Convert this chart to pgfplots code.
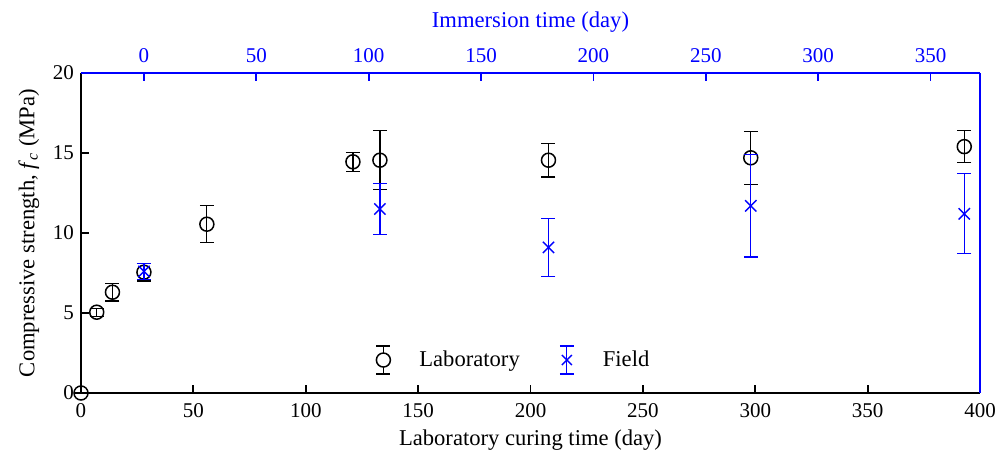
\documentclass[border=0pt]{standalone}
\usepackage{fontspec}
\setmainfont{Liberation Serif}
\usepackage{pgfplots}
\usepackage{pgfplotstable}
\pgfplotsset{compat=1.18}

\pgfplotstableread{
x y e
0 0 0
7 5.05 0.25
14 6.3 0.55
28 7.55 0.55
56 10.55 1.15
121 14.45 0.6
133 14.55 1.85
208 14.55 1.05
298 14.7 1.65
393 15.4 1.0
}\labdata

\pgfplotstableread{
x y e
0 7.6 0.5
105 11.5 1.6
180 9.1 1.8
270 11.7 3.2
365 11.2 2.5
}\fielddata

\pgfplotsset{
  lableg/.style={legend image code/.code={
    \path[draw=none] (0pt,0pt) rectangle (0.3cm+16pt,0.1pt);
    \draw[black,line width=0.6pt] (0.3cm,-7pt)--(0.3cm,7pt);
    \draw[black,line width=0.6pt] (0.3cm-3.5pt,-7pt)--(0.3cm+3.5pt,-7pt);
    \draw[black,line width=0.6pt] (0.3cm-3.5pt,7pt)--(0.3cm+3.5pt,7pt);
    \draw[black,line width=0.75pt,fill=white] (0.3cm,0pt) circle (3.5pt);
  }},
  fieldleg/.style={legend image code/.code={
    \path[draw=none] (0pt,0pt) rectangle (0.3cm+16pt,0.1pt);
    \draw[blue,line width=0.6pt] (0.3cm,-7pt)--(0.3cm,7pt);
    \draw[blue,line width=0.6pt] (0.3cm-3.5pt,-7pt)--(0.3cm+3.5pt,-7pt);
    \draw[blue,line width=0.6pt] (0.3cm-3.5pt,7pt)--(0.3cm+3.5pt,7pt);
    \draw[blue,line width=0.7pt] (0.3cm-2.5pt,-2.5pt)--(0.3cm+2.5pt,2.5pt);
    \draw[blue,line width=0.7pt] (0.3cm-2.5pt,2.5pt)--(0.3cm+2.5pt,-2.5pt);
  }},
}

\begin{document}
\begin{tikzpicture}
\begin{axis}[
  width=449.5pt, height=160pt, scale only axis,
  xmin=0, xmax=400, ymin=0, ymax=20,
  axis x line*=bottom, axis y line*=left,
  axis line style={line width=1pt, -, black},
  xtick={0,50,...,400}, ytick={0,5,...,20},
  tick align=inside, major tick length=4pt,
  tick style={line width=0.9pt, black},
  xlabel={Laboratory curing time (day)},
  xlabel style={yshift=0.5pt},
  ylabel={Compressive strength, \textit{f}\textsubscript{\textit{c}} (MPa)},
  /pgf/number format/assume math mode=true,
  font=\fontsize{11.3}{13}\selectfont,
  ticklabel style={font=\fontsize{10.5}{12}\selectfont},
  xticklabel style={yshift=-1.5pt},
  clip=false,
]
\addplot[only marks, mark=o, black, mark size=3.5pt,
  mark options={line width=0.75pt, fill=none},
  error bars/.cd, y dir=both, y explicit,
  error bar style={line width=0.6pt, black},
  error mark options={rotate=90, mark size=3.5pt, line width=0.6pt, black}]
  table[x=x, y=y, y error=e] {\labdata};
\end{axis}
\begin{axis}[
  width=449.5pt, height=160pt, scale only axis,
  xmin=-28, xmax=372, ymin=0, ymax=20,
  axis x line*=top, axis y line*=right,
  axis line style={line width=1pt, -, blue},
  xtick={0,50,...,350}, ytick=\empty,
  tick align=inside, major tick length=4pt,
  tick style={line width=0.9pt, blue},
  xticklabel style={blue, font=\fontsize{10.5}{12}\selectfont, yshift=1.5pt},
  xlabel={Immersion time (day)},
  xlabel style={blue, yshift=1.5pt},
  /pgf/number format/assume math mode=true,
  font=\fontsize{11.3}{13}\selectfont,
  clip=false,
  legend style={at={(0.477,0.103)}, anchor=center, draw=none, fill=none,
    font=\fontsize{11.3}{13}\selectfont, text=black,
    /tikz/every even column/.append style={column sep=13pt}},
  legend columns=2,
]
\addlegendimage{lableg}
\addplot[only marks, mark=x, blue, mark size=4pt,
  mark options={line width=0.7pt}, fieldleg,
  error bars/.cd, y dir=both, y explicit,
  error bar style={line width=0.6pt, blue},
  error mark options={rotate=90, mark size=3.5pt, line width=0.6pt, blue},
  ]
  table[x=x, y=y, y error=e] {\fielddata};
\legend{Laboratory,Field}
\end{axis}
\pgfresetboundingbox
\path[use as bounding box] (-40.5pt,-29.5pt) rectangle (458pt,196.5pt);
\end{tikzpicture}
\end{document}
